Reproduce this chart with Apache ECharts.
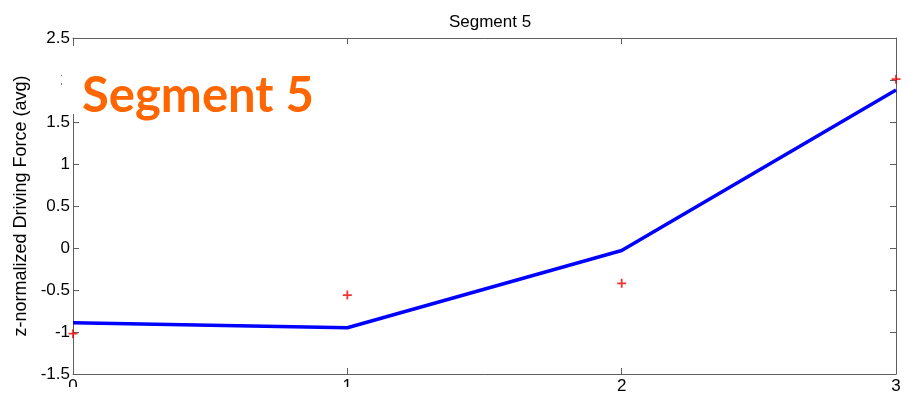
<!DOCTYPE html>
<html>
<head>
<meta charset="utf-8">
<script src="https://cdn.jsdelivr.net/npm/echarts@6/dist/echarts.min.js"></script>
<style>
  html, body { margin: 0; padding: 0; background: #fff; }
  #chart { width: 909px; height: 395px; }
</style>
</head>
<body>
<div id="chart"></div>
<script>
// Segment 5 - promedio de fuerza normalizada

// Datos
const xValues = [0, 1, 2, 3];
const lineValues = [-0.89, -0.95, -0.03, 1.88];
const pointValues = [-1.02, -0.56, -0.42, 2.01];
const yTicks = [-1.5, -1, -0.5, 0, 0.5, 1, 1.5, 2, 2.5];

const plusPath = 'path://M4,0 L6,0 L6,4 L10,4 L10,6 L6,6 L6,10 L4,10 L4,6 L0,6 L0,4 L4,4 Z';

const chart = echarts.init(document.getElementById('chart'));

const axisColor = '#5e5e5e';
const fontArial = 'Liberation Sans, Arial, sans-serif';
const labelStyle = {
    color: '#000',
    fontSize: 17,
    fontFamily: fontArial
};

// Eje con marcas hacia dentro (estilo caja)
function boxAxis(extra) {
    return Object.assign({
        type: 'value',
        axisLine: { show: true, onZero: false, lineStyle: { color: axisColor, width: 1 } },
        axisTick: { show: true, inside: true, length: 6, lineStyle: { color: axisColor } },
        axisLabel: { show: false },
        splitLine: { show: false }
    }, extra);
}

const option = {
    animation: false,
    title: {
        text: 'Segment 5',
        left: 485,
        top: 9,
        textAlign: 'center',
        textStyle: {
            fontSize: 17,
            fontWeight: 'normal',
            color: '#000',
            fontFamily: fontArial
        }
    },
    grid: {
        left: 73,
        right: 13,
        top: 38,
        bottom: 20,
        containLabel: false
    },
    xAxis: [
        boxAxis({
            min: 0, max: 3, interval: 1, position: 'bottom',
            axisLabel: Object.assign({ margin: 4 }, labelStyle)
        }),
        boxAxis({ min: 0, max: 3, interval: 1, position: 'top' })
    ],
    yAxis: [
        boxAxis({
            min: -1.5, max: 2.5, interval: 0.5, position: 'left',
            name: 'z-normalized Driving Force (avg)',
            nameLocation: 'middle',
            nameGap: 37,
            nameTextStyle: {
                color: '#000',
                fontSize: 18,
                fontFamily: fontArial
            },
            axisLabel: Object.assign({
                margin: 3,
                formatter: function (v) {
                    return yTicks.indexOf(v) >= 0 ? String(v) : '';
                }
            }, labelStyle)
        }),
        boxAxis({ min: -1.5, max: 2.5, interval: 0.5, position: 'right' })
    ],
    series: [{
        name: 'promedio',
        type: 'line',
        data: xValues.map((x, i) => [x, lineValues[i]]),
        showSymbol: false,
        lineStyle: { color: '#0000ff', width: 3.5 },
        z: 2
    }, {
        name: 'puntos',
        type: 'scatter',
        data: xValues.map((x, i) => [x, pointValues[i]]),
        symbol: plusPath,
        symbolSize: 9,
        itemStyle: { color: '#ee0000' },
        clip: false,
        z: 3
    }],
    graphic: [{
        // recuadro blanco detrás del texto naranja
        type: 'rect',
        shape: { x: 62, y: 46, width: 258, height: 68 },
        style: { fill: '#fff' },
        z: 100
    }, {
        type: 'text',
        left: 82,
        top: 72,
        style: {
            text: 'Segment 5',
            fill: '#ff6600',
            fontSize: 49,
            fontWeight: 'bold',
            fontFamily: 'Lato, Open Sans, sans-serif'
        },
        z: 101
    }, {
        // franja inferior recortada
        type: 'rect',
        shape: { x: 0, y: 387, width: 420, height: 8 },
        style: { fill: '#fff' },
        z: 100
    }]
};

chart.setOption(option);

window.addEventListener('resize', function () {
    chart.resize();
});
</script>
</body>
</html>
